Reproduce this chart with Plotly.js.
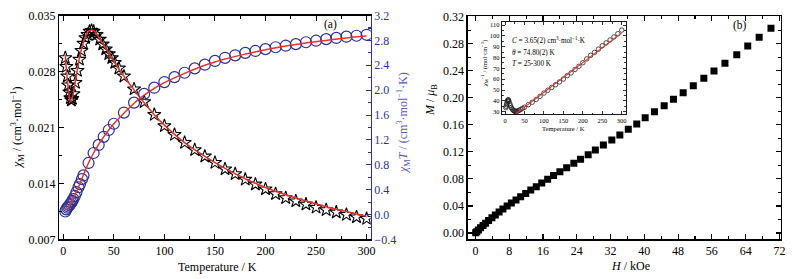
<!DOCTYPE html>
<html><head><meta charset="utf-8">
<script src="https://cdn.plot.ly/plotly-3.0.1.min.js"></script>
<style>html,body{margin:0;padding:0;background:#fff}#c{width:803px;height:279px}</style>
</head><body><div id="c"></div>
<script>
// ---- panel (a): chi_M (stars, left axis) ----
const starT = [2,3,4,5,6,7,8,9,10,12,14,16,18,20,22,24,26,28,30,33,36,39,42,45,48,51,55,60,70,80,90,100,110,120,130,140,150,160,170,180,190,200,210,220,230,240,250,260,270,280,290,300];
const chiM = [0.0297,0.0286,0.0274,0.0263,0.0254,0.0247,0.0244,0.0246,0.0252,0.0266,0.0281,0.0295,0.0306,0.0315,0.0322,0.0326,0.0330,0.0331,0.0330,0.0326,0.0320,0.0314,0.0308,0.0302,0.0297,0.0291,0.0284,0.0274,0.0258,0.0242,0.0226,0.0212,0.0201,0.0191,0.0182,0.0174,0.0166,0.0158,0.0152,0.0145,0.0139,0.0133,0.0127,0.0122,0.0118,0.0114,0.0110,0.0107,0.0104,0.0101,0.0098,0.0096];
// chi_M T (circles, right axis)
const circT = [2,3,4,5,6,7,8,9,10,11.5,13,15,16.5,18.5,20,25,30,35,40,45,50,60,70,80,90,100,110,120,130,140,150,160,170,180,190,200,210,220,230,240,250,260,270,280,290,300];
const chiMT = [0.05,0.085,0.11,0.13,0.15,0.17,0.195,0.22,0.25,0.30,0.36,0.44,0.49,0.57,0.63,0.83,0.99,1.12,1.25,1.36,1.46,1.64,1.80,1.94,2.04,2.13,2.21,2.28,2.35,2.41,2.47,2.52,2.56,2.60,2.63,2.66,2.69,2.715,2.74,2.77,2.795,2.82,2.84,2.86,2.875,2.89];
// red fit curves
const fitChiT = [2,3,4,5,6,7,8,9,10,12,14,16,18,20,22,24,26,28,30,33,36,40,45,50,60,70,80,90,100,120,140,160,180,200,220,240,260,280,300];
const fitChi = [0.0301,0.0284,0.0270,0.0258,0.0248,0.0243,0.0243,0.0247,0.0253,0.0268,0.0283,0.0297,0.0308,0.0317,0.0324,0.0329,0.0331,0.0332,0.0331,0.0327,0.0321,0.0313,0.0303,0.0293,0.0274,0.0257,0.0241,0.0226,0.0213,0.0191,0.0174,0.0159,0.0146,0.0135,0.0126,0.0118,0.0111,0.0105,0.0099];
const fitChiTT = [4,6,8,10,12,14,16,18,20,25,30,35,40,45,50,60,70,80,90,100,120,140,160,180,200,220,240,260,280,300];
const fitChiTv = [0.075,0.14,0.20,0.26,0.33,0.40,0.48,0.56,0.64,0.83,0.99,1.13,1.25,1.36,1.46,1.63,1.79,1.92,2.03,2.12,2.27,2.40,2.50,2.58,2.65,2.71,2.76,2.80,2.84,2.87];
// ---- panel (b): M vs H ----
const fieldH = [0.05,0.3,0.7,1.2,1.8,2.4,3.1,3.9,4.7,5.6,6.5,7.5,8.5,9.6,10.7,11.9,13.1,14.4,15.7,17.1,18.5,20.0,21.6,23.3,24.9,26.7,28.4,30.3,32.3,34.2,36.2,38.2,40.2,42.4,44.7,46.9,49.2,51.6,54.1,56.5,59.1,61.9,64.5,67.2,70.0];
const magM = [0.0003,0.0020,0.0045,0.0076,0.0110,0.0146,0.0186,0.0226,0.0268,0.0310,0.0355,0.0400,0.0445,0.0490,0.0538,0.0585,0.0635,0.0685,0.0738,0.0795,0.0850,0.0907,0.0966,0.1031,0.1090,0.1158,0.1228,0.1302,0.1376,0.1450,0.1533,0.1612,0.1705,0.1794,0.1883,0.1978,0.2076,0.2179,0.2288,0.2396,0.2510,0.2638,0.2766,0.2895,0.3028];
// inset: 1/chi_M vs T, Curie-Weiss fit 25-300 K
const insetT = [2,3,4,5,6,7,8,9,10,12,14,16,18,20,22,24,26,28,30,33,36,40,45,50,60,70,80,90,100,110,120,130,140,150,160,170,180,190,200,210,220,230,240,250,260,270,280,290,300];
const invChi = [33.7,35.0,36.5,38.0,39.4,40.5,41.0,40.7,39.7,37.6,35.6,33.9,32.7,31.7,31.1,30.7,30.3,30.2,30.3,30.7,31.3,32.0,33.1,34.1,36.5,38.8,41.3,44.2,47.2,49.8,52.4,54.9,57.5,60.2,63.3,65.8,69.0,71.9,75.2,78.7,82.0,84.7,87.7,90.9,93.5,96.2,99.0,102.0,105.3];
const cwT = [25,300];
const cwInv = [27.3,102.7];
const insetLines = ['<i>C</i> = 3.65(2) cm<sup>3</sup>·mol<sup>−1</sup>·K','<i>θ</i> = 74.80(2) K','<i>T</i> = 25-300 K'];

const FF = 'Liberation Serif, Times New Roman, serif';
const RED = '#e8322c', NAVY = '#2e3192';

const traces = [
  {x: starT, y: chiM, xaxis:'x', yaxis:'y', mode:'markers', type:'scatter',
   marker:{symbol:'star-open', size:10, color:'#000', line:{width:1.1, color:'#000'}}},
  {x: circT, y: chiMT, xaxis:'x', yaxis:'y2', mode:'markers', type:'scatter',
   marker:{symbol:'circle-open', size:11, color:NAVY, line:{width:1.2, color:NAVY}}},
  {x: fitChiT, y: fitChi, xaxis:'x', yaxis:'y', mode:'lines', type:'scatter',
   line:{color:RED, width:1.5, shape:'spline'}},
  {x: fitChiTT, y: fitChiTv, xaxis:'x', yaxis:'y2', mode:'lines', type:'scatter',
   line:{color:RED, width:1.5, shape:'spline'}},
  {x: fieldH, y: magM, xaxis:'x2', yaxis:'y3', mode:'markers', type:'scatter',
   marker:{symbol:'square', size:7, color:'#000'}},
  {x: insetT, y: invChi, xaxis:'x3', yaxis:'y4', mode:'markers', type:'scatter',
   marker:{symbol:'circle-open', size:4.5, color:'#222', line:{width:0.8, color:'#222'}}},
  {x: cwT, y: cwInv, xaxis:'x3', yaxis:'y4', mode:'lines', type:'scatter',
   line:{color:RED, width:1.1}}
];

function ax(o){
  return Object.assign({showgrid:false, zeroline:false, showline:true, linecolor:'#000', linewidth:1.3,
    ticks:'inside', ticklen:5, tickwidth:1.1, tickcolor:'#000',
    tickfont:{family:FF, size:12, color:'#000'}}, o);
}

const layout = {
  width:803, height:279, margin:{l:0,r:0,t:0,b:0},
  paper_bgcolor:'#fff', plot_bgcolor:'rgba(0,0,0,0)', showlegend:false,
  xaxis: ax({domain:[0.0738,0.4616], anchor:'y', range:[-3.96,304], tick0:0, dtick:50, mirror:'ticks',
    minor:{dtick:25, ticks:'inside', ticklen:3, tickcolor:'#000'}}),
  yaxis: ax({domain:[0.1416,0.9444], anchor:'x', range:[0.007,0.035], tick0:0.007, dtick:0.007, tickformat:'.3f',
    minor:{dtick:0.0035, ticks:'inside', ticklen:3, tickcolor:'#000'}}),
  yaxis2: ax({overlaying:'y', side:'right', anchor:'x', range:[-0.4,3.2], tick0:0, dtick:0.4, tickformat:'.1f',
    linecolor:NAVY, tickcolor:NAVY, tickfont:{family:FF, size:12, color:NAVY},
    minor:{dtick:0.2, ticks:'inside', ticklen:3, tickcolor:NAVY}}),
  xaxis2: ax({domain:[0.5824,0.9722], anchor:'y3', range:[-1.85,72.3], tick0:0, dtick:8, mirror:'ticks',
    minor:{dtick:4, ticks:'inside', ticklen:3, tickcolor:'#000'}}),
  yaxis3: ax({domain:[0.1416,0.9427], anchor:'x2', range:[-0.0096,0.321], tick0:0, dtick:0.04, tickformat:'.2f', mirror:'ticks',
    minor:{dtick:0.02, ticks:'inside', ticklen:3, tickcolor:'#000'}}),
  xaxis3: ax({domain:[0.6248,0.7796], anchor:'y4', range:[-8.5,311], tick0:0, dtick:50, mirror:'ticks',
    linewidth:0.9, ticklen:3, tickwidth:0.8, tickfont:{family:FF, size:6.5, color:'#000'},
    minor:{dtick:25, ticks:'inside', ticklen:1.8, tickcolor:'#000'}}),
  yaxis4: ax({domain:[0.5903,0.9201], anchor:'x3', range:[27.6,112.5], tick0:0, dtick:10, mirror:'ticks',
    linewidth:0.9, ticklen:3, tickwidth:0.8, tickfont:{family:FF, size:6.5, color:'#000'},
    minor:{dtick:5, ticks:'inside', ticklen:1.8, tickcolor:'#000'}}),
  annotations: []
};

function ann(text, px, py, o){
  layout.annotations.push(Object.assign({text:text, xref:'paper', yref:'paper', x:px/803, y:1-py/279,
    showarrow:false, xanchor:'center', yanchor:'middle', font:{family:FF, size:12, color:'#000'}}, o||{}));
}
ann('<i>χ</i><sub>M</sub> / (cm<sup>3</sup>·mol<sup>−1</sup>)', 18, 127, {textangle:-90});
ann('Temperature / K', 218, 267);
ann('<i>χ</i><sub>M</sub><i>T</i> / (cm<sup>3</sup>·mol<sup>−1</sup>·K)', 403, 123, {textangle:-90, font:{family:FF, size:12, color:'#5b5bb0'}});
ann('<i>M</i> / <i>μ</i><sub>B</sub>', 431, 100, {textangle:-90});
ann('<i>H</i> / kOe', 630, 266);
ann('(a)', 330, 25, {font:{family:FF, size:11.5, color:'#000'}});
ann('(b)', 740, 26, {font:{family:FF, size:11.5, color:'#000'}});
ann('<i>χ</i><sub>M</sub><sup>−1</sup> / (mol·cm<sup>−3</sup>)', 485, 64, {textangle:-90, font:{family:FF, size:6.5, color:'#000'}});
ann('Temperature / K', 563, 128, {font:{family:FF, size:6.5, color:'#000'}});
const insetY = [41, 52.7, 64.3];
insetLines.forEach((t,i)=>ann(t, 510, insetY[i], {xanchor:'left', font:{family:FF, size:7.2, color:'#000'}}));

Plotly.newPlot('c', traces, layout, {staticPlot:true, displayModeBar:false});
</script>
</body></html>
